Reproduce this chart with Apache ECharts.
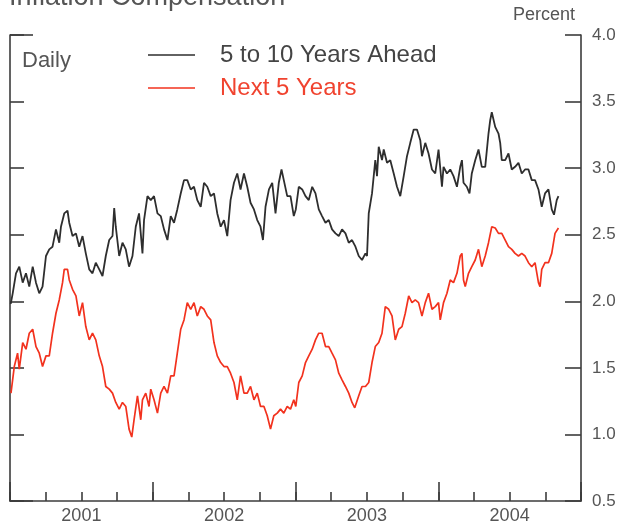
<!DOCTYPE html>
<html>
<head>
<meta charset="utf-8">
<script src="https://cdn.jsdelivr.net/npm/echarts@6/dist/echarts.min.js"></script>
<style>
  html, body { margin: 0; padding: 0; background: #fff; }
  #chart { width: 633px; height: 527px; }
</style>
</head>
<body>
<div id="chart"></div>
<script>
// Text
const titleText = 'Inflation Compensation';
const unitLabel = 'Percent';
const frequencyNote = 'Daily';
const seriesNames = ['5 to 10 Years Ahead', 'Next 5 Years'];
const yearLabels = ['2001', '2002', '2003', '2004'];

// Axis ranges
const yearStart = 2001;
const yearEnd = 2005;
const percentMin = 0.5;
const percentMax = 4.0;
const percentStep = 0.5;

// Five-to-ten-year-ahead inflation compensation, percent ([fractional year, value])
const fiveToTenYearsAhead = [
  [2001.005, 1.98], [2001.019, 2.06], [2001.042, 2.21], [2001.065, 2.26], [2001.089, 2.14],
  [2001.112, 2.21], [2001.135, 2.11], [2001.159, 2.26], [2001.182, 2.14], [2001.205, 2.06],
  [2001.228, 2.11], [2001.252, 2.34], [2001.275, 2.39], [2001.298, 2.41], [2001.322, 2.54],
  [2001.345, 2.44], [2001.357, 2.56], [2001.380, 2.66], [2001.403, 2.68], [2001.415, 2.59],
  [2001.438, 2.49], [2001.462, 2.51], [2001.485, 2.41], [2001.508, 2.49], [2001.531, 2.36],
  [2001.555, 2.24], [2001.578, 2.21], [2001.601, 2.29], [2001.625, 2.24], [2001.648, 2.19],
  [2001.671, 2.34], [2001.695, 2.46], [2001.718, 2.49], [2001.730, 2.70], [2001.741, 2.56],
  [2001.765, 2.34], [2001.788, 2.44], [2001.811, 2.39], [2001.834, 2.26], [2001.858, 2.34],
  [2001.881, 2.56], [2001.904, 2.66], [2001.928, 2.36], [2001.939, 2.61], [2001.963, 2.79],
  [2001.986, 2.76], [2002.009, 2.79], [2002.033, 2.66], [2002.056, 2.64], [2002.079, 2.54],
  [2002.103, 2.46], [2002.126, 2.64], [2002.149, 2.59], [2002.172, 2.69], [2002.196, 2.81],
  [2002.219, 2.91], [2002.242, 2.91], [2002.266, 2.84], [2002.289, 2.86], [2002.312, 2.76],
  [2002.336, 2.71], [2002.359, 2.89], [2002.382, 2.86], [2002.406, 2.79], [2002.429, 2.81],
  [2002.452, 2.66], [2002.476, 2.56], [2002.499, 2.61], [2002.522, 2.49], [2002.545, 2.76],
  [2002.569, 2.89], [2002.592, 2.96], [2002.615, 2.84], [2002.639, 2.96], [2002.662, 2.86],
  [2002.685, 2.74], [2002.709, 2.69], [2002.732, 2.61], [2002.755, 2.56], [2002.772, 2.46],
  [2002.790, 2.71], [2002.814, 2.84], [2002.837, 2.89], [2002.860, 2.66], [2002.883, 2.89],
  [2002.902, 2.99], [2002.918, 2.91], [2002.942, 2.79], [2002.965, 2.79], [2002.988, 2.64],
  [2003.002, 2.69], [2003.023, 2.86], [2003.047, 2.84], [2003.070, 2.79], [2003.093, 2.76],
  [2003.117, 2.86], [2003.140, 2.81], [2003.163, 2.69], [2003.186, 2.64], [2003.210, 2.59],
  [2003.233, 2.61], [2003.256, 2.54], [2003.280, 2.51], [2003.303, 2.49], [2003.326, 2.54],
  [2003.350, 2.51], [2003.373, 2.44], [2003.396, 2.46], [2003.420, 2.41], [2003.443, 2.34],
  [2003.466, 2.31], [2003.490, 2.36], [2003.501, 2.34], [2003.513, 2.66], [2003.536, 2.81],
  [2003.559, 3.06], [2003.571, 2.94], [2003.583, 3.16], [2003.606, 3.06], [2003.618, 3.14],
  [2003.641, 3.04], [2003.664, 3.06], [2003.688, 2.96], [2003.711, 2.86], [2003.734, 2.79],
  [2003.758, 2.94], [2003.781, 3.09], [2003.804, 3.19], [2003.828, 3.29], [2003.851, 3.29],
  [2003.874, 3.21], [2003.886, 3.09], [2003.909, 3.19], [2003.932, 3.11], [2003.956, 2.99],
  [2003.979, 2.96], [2004.002, 3.14], [2004.026, 2.86], [2004.037, 3.01], [2004.061, 2.96],
  [2004.084, 2.99], [2004.107, 2.94], [2004.131, 2.86], [2004.154, 3.01], [2004.166, 3.06],
  [2004.177, 2.89], [2004.200, 2.86], [2004.219, 2.81], [2004.235, 2.96], [2004.259, 3.06],
  [2004.282, 3.14], [2004.305, 3.01], [2004.329, 3.01], [2004.352, 3.26], [2004.364, 3.36],
  [2004.375, 3.42], [2004.399, 3.31], [2004.422, 3.26], [2004.434, 3.19], [2004.445, 3.06],
  [2004.469, 3.06], [2004.492, 3.11], [2004.515, 2.99], [2004.538, 3.01], [2004.562, 3.04],
  [2004.585, 2.96], [2004.608, 2.99], [2004.632, 2.99], [2004.655, 2.91], [2004.678, 2.91],
  [2004.702, 2.84], [2004.725, 2.71], [2004.748, 2.81], [2004.772, 2.84], [2004.795, 2.69],
  [2004.811, 2.65], [2004.830, 2.76], [2004.842, 2.79]
];

// Next-five-years inflation compensation, percent ([fractional year, value])
const nextFiveYears = [
  [2001.007, 1.31], [2001.030, 1.51], [2001.053, 1.61], [2001.065, 1.49], [2001.089, 1.69],
  [2001.112, 1.64], [2001.135, 1.76], [2001.159, 1.79], [2001.182, 1.66], [2001.205, 1.61],
  [2001.228, 1.51], [2001.252, 1.59], [2001.275, 1.59], [2001.298, 1.76], [2001.322, 1.91],
  [2001.345, 2.01], [2001.368, 2.14], [2001.380, 2.24], [2001.403, 2.24], [2001.415, 2.16],
  [2001.438, 2.09], [2001.462, 2.04], [2001.485, 1.89], [2001.508, 1.99], [2001.531, 1.81],
  [2001.555, 1.71], [2001.578, 1.76], [2001.601, 1.71], [2001.625, 1.59], [2001.648, 1.51],
  [2001.671, 1.36], [2001.695, 1.34], [2001.718, 1.31], [2001.741, 1.24], [2001.765, 1.19],
  [2001.788, 1.24], [2001.811, 1.21], [2001.834, 1.04], [2001.853, 0.98], [2001.869, 1.11],
  [2001.893, 1.29], [2001.916, 1.11], [2001.928, 1.26], [2001.951, 1.31], [2001.974, 1.21],
  [2001.986, 1.34], [2002.009, 1.26], [2002.033, 1.16], [2002.056, 1.31], [2002.079, 1.36],
  [2002.103, 1.31], [2002.126, 1.44], [2002.149, 1.44], [2002.172, 1.61], [2002.196, 1.79],
  [2002.219, 1.86], [2002.242, 1.99], [2002.266, 1.94], [2002.289, 1.99], [2002.312, 1.89],
  [2002.336, 1.96], [2002.359, 1.94], [2002.382, 1.89], [2002.406, 1.86], [2002.429, 1.69],
  [2002.452, 1.59], [2002.476, 1.54], [2002.499, 1.51], [2002.522, 1.51], [2002.545, 1.46],
  [2002.569, 1.39], [2002.592, 1.26], [2002.615, 1.44], [2002.639, 1.31], [2002.662, 1.31],
  [2002.685, 1.36], [2002.709, 1.26], [2002.732, 1.31], [2002.755, 1.21], [2002.779, 1.21],
  [2002.802, 1.14], [2002.825, 1.04], [2002.848, 1.14], [2002.872, 1.16], [2002.895, 1.19],
  [2002.918, 1.16], [2002.942, 1.21], [2002.965, 1.19], [2002.988, 1.26], [2003.002, 1.21],
  [2003.023, 1.39], [2003.047, 1.44], [2003.070, 1.54], [2003.093, 1.59], [2003.117, 1.64],
  [2003.140, 1.71], [2003.163, 1.76], [2003.186, 1.76], [2003.210, 1.66], [2003.233, 1.66],
  [2003.256, 1.61], [2003.280, 1.56], [2003.303, 1.46], [2003.326, 1.41], [2003.350, 1.36],
  [2003.373, 1.31], [2003.396, 1.24], [2003.415, 1.20], [2003.443, 1.29], [2003.466, 1.36],
  [2003.490, 1.36], [2003.513, 1.39], [2003.536, 1.54], [2003.559, 1.66], [2003.583, 1.69],
  [2003.606, 1.76], [2003.629, 1.96], [2003.653, 1.94], [2003.676, 1.89], [2003.699, 1.71],
  [2003.723, 1.79], [2003.746, 1.81], [2003.769, 1.91], [2003.793, 2.04], [2003.816, 1.99],
  [2003.839, 2.01], [2003.862, 1.99], [2003.886, 1.89], [2003.909, 1.99], [2003.932, 2.06],
  [2003.956, 1.94], [2003.979, 1.96], [2004.002, 1.99], [2004.014, 1.86], [2004.037, 1.99],
  [2004.061, 2.06], [2004.084, 2.16], [2004.107, 2.14], [2004.131, 2.21], [2004.154, 2.34],
  [2004.166, 2.36], [2004.177, 2.16], [2004.189, 2.11], [2004.212, 2.21], [2004.235, 2.26],
  [2004.259, 2.31], [2004.282, 2.39], [2004.305, 2.26], [2004.329, 2.34], [2004.352, 2.44],
  [2004.375, 2.56], [2004.399, 2.55], [2004.422, 2.51], [2004.445, 2.51], [2004.469, 2.46],
  [2004.492, 2.41], [2004.515, 2.39], [2004.538, 2.36], [2004.562, 2.34], [2004.585, 2.36],
  [2004.608, 2.34], [2004.632, 2.29], [2004.655, 2.26], [2004.678, 2.29], [2004.702, 2.14],
  [2004.713, 2.11], [2004.725, 2.24], [2004.748, 2.29], [2004.772, 2.29], [2004.795, 2.36],
  [2004.818, 2.51], [2004.842, 2.55]
];

// Styling
const FONT = '"Liberation Sans", Arial, Helvetica, sans-serif';
const axisColor = '#3c3c3c';
const textColor = '#555555';
const darkLine = '#2e2e2e';
const redLine = '#f2321e';
const redText = '#f0432f';

const chart = echarts.init(document.getElementById('chart'), null, { renderer: 'canvas' });

const option = {
  backgroundColor: '#ffffff',
  animation: false,
  grid: { left: 10, right: 52, top: 35, bottom: 26, containLabel: false },
  legend: {
    orient: 'vertical',
    left: 143,
    top: 37,
    icon: 'rect',
    itemWidth: 47,
    itemHeight: 1.6,
    itemGap: 7,
    selectedMode: false,
    textStyle: { fontFamily: FONT, fontSize: 24, lineHeight: 26, padding: [0, 0, 0, 20] },
    data: [
      { name: seriesNames[0], textStyle: { color: '#444444' } },
      { name: seriesNames[1], textStyle: { color: redText } }
    ]
  },
  graphic: [
    {
      type: 'text', x: 9, y: 11,
      style: { text: titleText, fontFamily: FONT, fontSize: 27, fill: textColor, verticalAlign: 'bottom' }
    },
    {
      type: 'text', x: 575, y: 15,
      style: { text: unitLabel, fontFamily: FONT, fontSize: 18, fill: textColor, align: 'right', verticalAlign: 'middle' }
    },
    {
      type: 'text', x: 22, y: 61,
      style: { text: frequencyNote, fontFamily: FONT, fontSize: 22, fill: textColor, verticalAlign: 'middle' }
    }
  ],
  xAxis: [
    {
      // quarterly minor ticks and the baseline
      type: 'value', min: yearStart, max: yearEnd, interval: 0.25,
      axisLine: { show: true, lineStyle: { color: axisColor, width: 1.6 } },
      axisTick: { show: true, inside: true, length: 9, lineStyle: { color: axisColor, width: 1.6 } },
      axisLabel: { show: false },
      splitLine: { show: false }
    },
    {
      // year boundaries
      type: 'value', min: yearStart, max: yearEnd, interval: 1, position: 'bottom',
      axisLine: { show: false },
      axisTick: { show: true, inside: true, length: 19, lineStyle: { color: axisColor, width: 1.6 } },
      axisLabel: { show: false },
      splitLine: { show: false }
    },
    {
      // year names centred under each year
      type: 'value', min: yearStart, max: yearEnd, interval: 0.5, position: 'bottom',
      axisLine: { show: false },
      axisTick: { show: false },
      splitLine: { show: false },
      axisLabel: {
        show: true, margin: 6, fontFamily: FONT, fontSize: 18, color: textColor,
        showMinLabel: true, showMaxLabel: true,
        formatter: function (v) {
          const whole = Math.floor(v + 1e-9);
          if (Math.abs(v - whole - 0.5) < 1e-6) {
            return yearLabels[whole - yearStart] || '';
          }
          return '';
        }
      }
    }
  ],
  yAxis: [
    {
      type: 'value', position: 'right', min: percentMin, max: percentMax, interval: percentStep,
      axisLine: { show: true, lineStyle: { color: axisColor, width: 1.6 } },
      axisTick: { show: true, inside: true, length: 16, lineStyle: { color: axisColor, width: 1.6 } },
      axisLabel: {
        show: true, margin: 11, fontFamily: FONT, fontSize: 17, color: textColor,
        formatter: function (v) { return v.toFixed(1); }
      },
      splitLine: { show: false }
    },
    {
      type: 'value', position: 'left', min: percentMin, max: percentMax, interval: percentStep,
      axisLine: { show: true, lineStyle: { color: axisColor, width: 1.6 } },
      axisTick: { show: true, inside: true, length: 14, lineStyle: { color: axisColor, width: 1.6 } },
      axisLabel: { show: false },
      splitLine: { show: false }
    },
    {
      // longer cap at the top of the left scale
      type: 'value', position: 'left', min: percentMin, max: percentMax, interval: percentMax - percentMin,
      axisLine: { show: false },
      axisTick: { show: true, inside: true, length: 23, lineStyle: { color: axisColor, width: 1.6 } },
      axisLabel: { show: false },
      splitLine: { show: false }
    }
  ],
  series: [
    {
      name: seriesNames[0], type: 'line', xAxisIndex: 0, yAxisIndex: 0,
      data: fiveToTenYearsAhead, showSymbol: false, symbol: 'none',
      color: darkLine, lineStyle: { color: darkLine, width: 1.8 }
    },
    {
      name: seriesNames[1], type: 'line', xAxisIndex: 0, yAxisIndex: 0,
      data: nextFiveYears, showSymbol: false, symbol: 'none',
      color: redLine, lineStyle: { color: redLine, width: 1.7 }
    }
  ]
};

chart.setOption(option);
</script>
</body>
</html>
